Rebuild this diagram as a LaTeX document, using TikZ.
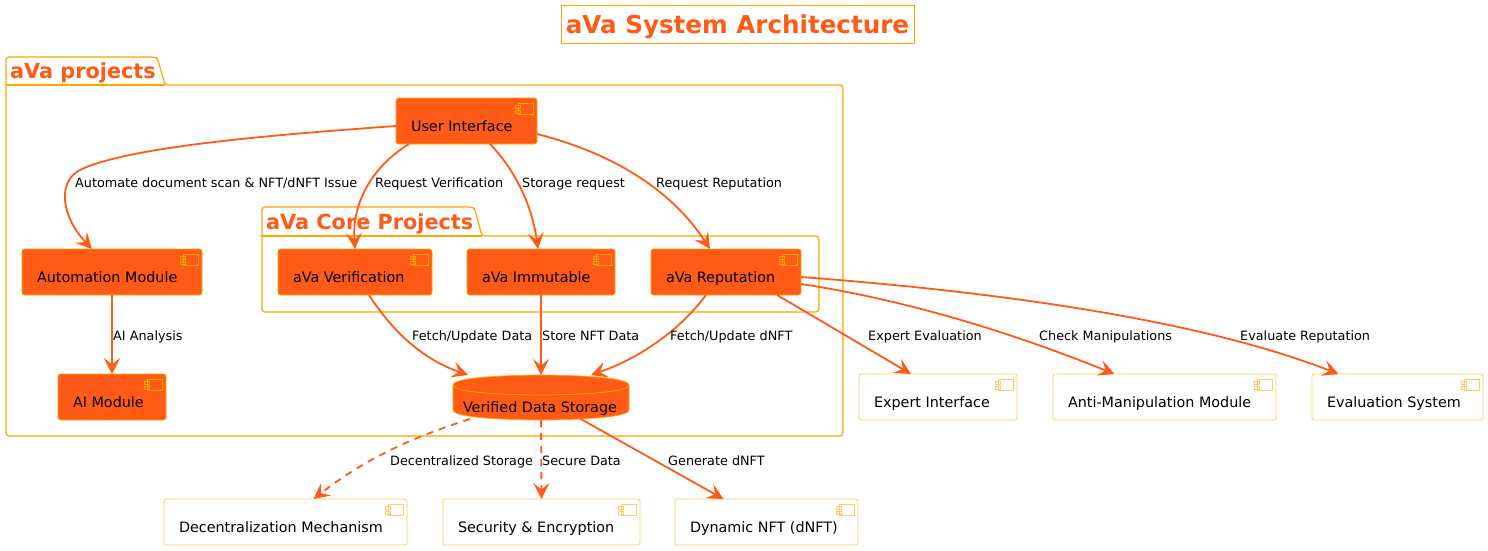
\documentclass[tikz,border=0pt]{standalone}
\usepackage{fontspec}
\setmainfont{DejaVu Sans}
\usetikzlibrary{arrows.meta}
\definecolor{hot}{HTML}{FF5B16}
\definecolor{gold}{HTML}{FFA500}
\definecolor{pale}{HTML}{FFCC66}
\tikzset{
  x=1pt,y=-1pt,
  compbase/.style={anchor=north west,inner sep=0pt,outer sep=0pt,rounded corners=2.5pt,text=black},
  hotbox/.style={compbase,fill=hot,draw=gold,line width=0.7pt},
  palebox/.style={compbase,fill=white,draw=pale,line width=0.8pt},
  hoticon/.style={gold,line width=0.8pt},
  paleicon/.style={pale,line width=0.9pt},
  pkg/.style={draw=gold,line width=1.2pt,line join=round},
  pkgtitle/.style={anchor=base west,inner sep=0pt,text=hot,font=\fontsize{20.8}{24}\selectfont\bfseries},
  lab/.style={anchor=base west,inner sep=0pt,text=black,font=\fontsize{12.8}{15}\selectfont},
  link/.style={draw=hot,line width=1.8pt,-{Stealth[length=16pt,width=16pt,inset=6.5pt]}},
  dlink/.style={link,dash pattern=on 7pt off 6pt},
}
% name, x, y, width, height, text, boxstyle, iconstyle
\newcommand{\compnode}[8]{%
  \node[#7,minimum height=#5pt] (#1) at (#2,#3)
    {\makebox[#4pt][l]{\hspace{15pt}\raisebox{-10pt}[0pt][0pt]{\fontsize{14.35}{16}\selectfont #6}}};
  \begin{scope}[shift={(#1.north east)}]
    \draw[#8] (-19,5) rectangle (-4,16);
    \draw[#8] (-22,7) rectangle (-17,10);
    \draw[#8] (-22,12) rectangle (-17,15);
  \end{scope}
}
\begin{document}
\begin{tikzpicture}
\fill[white] (0,0) rectangle (1488,550);
\useasboundingbox (0,0) rectangle (1488,550);

% title
\node[anchor=north west,inner sep=0pt,outer sep=0pt,minimum width=353pt,minimum height=38pt,
  text=hot,font=\fontsize{24.6}{28}\selectfont\bfseries] (title) at (561,5) {\raisebox{-9pt}[0pt][0pt]{aVa System Architecture}};
\draw[gold,line width=1pt] (title.north west) rectangle (title.south east);

% packages
\draw[pkg,rounded corners=3pt] (6,85) -- (6,57) -- (156,57) -- (158,60) -- (165,85) -- (843,85) -- (843,436) -- (6,436) -- cycle;
\draw[pkg] (6,85) -- (165,85);
\node[pkgtitle] (outerlabel) at (10,78) {aVa projects};
\draw[pkg,rounded corners=3pt] (262,236) -- (262,207) -- (473,207) -- (475,210) -- (482,236) -- (819,236) -- (819,312) -- (262,312) -- cycle;
\draw[pkg] (262,236) -- (482,236);
\node[pkgtitle] (corelabel) at (266,229) {aVa Core Projects};

% components
\compnode{ui}{396}{98}{141}{46}{User Interface}{hotbox}{hoticon}
\compnode{auto}{22}{249}{180}{46}{Automation Module}{hotbox}{hoticon}
\compnode{ver}{278}{249}{154}{46}{aVa Verification}{hotbox}{hoticon}
\compnode{imm}{467}{249}{148}{46}{aVa Immutable}{hotbox}{hoticon}
\compnode{rep}{651}{249}{150}{46}{aVa Reputation}{hotbox}{hoticon}
\compnode{ai}{58}{374}{108}{46}{AI Module}{hotbox}{hoticon}
\compnode{expert}{859}{374}{158}{46}{Expert Interface}{palebox}{paleicon}
\compnode{anti}{1053}{374}{223}{46}{Anti-Manipulation Module}{palebox}{paleicon}
\compnode{evalsys}{1312}{374}{171}{46}{Evaluation System}{palebox}{paleicon}
\compnode{decent}{164}{499}{243}{46}{Decentralization Mechanism}{palebox}{paleicon}
\compnode{secure}{443}{499}{197}{46}{Security \& Encryption}{palebox}{paleicon}
\compnode{dnft}{675}{499}{183}{46}{Dynamic NFT (dNFT)}{palebox}{paleicon}

% database
\path[fill=hot,draw=gold,line width=0.7pt]
  (453,385) .. controls (453,375) and (541,375) .. (541,375)
  .. controls (541,375) and (629,375) .. (629,385)
  -- (629,410) .. controls (629,420) and (541,420) .. (541,420)
  .. controls (541,420) and (453,420) .. (453,410) -- cycle;
\draw[gold,line width=0.7pt] (453,385) .. controls (453,395) and (541,395) .. (541,395)
  .. controls (541,395) and (629,395) .. (629,385);
\node[anchor=north west,inner sep=0pt,outer sep=0pt,minimum height=45pt] (db) at (453,375)
  {\makebox[176pt][l]{\hspace{10pt}\raisebox{-15pt}[0pt][0pt]{\fontsize{14.35}{16}\selectfont Verified Data Storage}}};

% connectors
\draw[link] ([yshift=-5pt]ui.west) .. controls (300,133) and (130,145) .. (80,170)
   .. controls (58,181) and (60,215) .. ([xshift=-20pt]auto.north);
\draw[link] ([xshift=13pt]ui.south west) .. controls (370,168) and (352,205) .. (ver.north);
\draw[link] ([xshift=94pt]ui.south west) .. controls (515,170) and (532,205) .. ([xshift=-3pt]imm.north);
\draw[link] ([yshift=10pt]ui.south east) .. controls (620,155) and (675,195) .. ([xshift=-16pt]rep.north);
\draw[link] (auto.south) -- (ai.north);
\draw[link] ([xshift=14pt]ver.south) .. controls (395,335) and (425,360) .. ([xshift=-73pt]db.north);
\draw[link] (imm.south) -- (db.north);
\draw[link] ([xshift=55pt]rep.south west) .. controls (680,330) and (640,358) .. ([xshift=50pt]db.north);
\draw[link] ([xshift=126pt]rep.south west) -- ([xshift=-27pt]expert.north);
\draw[link] ([yshift=11pt]rep.south east) .. controls (920,302) and (1030,340) .. ([xshift=-50pt]anti.north);
\draw[link] ([yshift=18pt]rep.south east) .. controls (1000,292) and (1200,320) .. ([xshift=-59pt]evalsys.north);
\draw[dlink] ([xshift=-71pt,yshift=1pt]db.south) .. controls (420,435) and (370,455) .. ([xshift=28pt]decent.north);
\draw[dlink] (db.south) -- (secure.north);
\draw[link] ([xshift=38pt,yshift=2pt]db.south) -- ([xshift=-43pt]dnft.north);

% labels
\node[lab] (l1) at (75,187) {Automate document scan \& NFT/dNFT Issue};
\node[lab] (l2) at (375,187) {Request Verification};
\node[lab] (l3) at (522,187) {Storage request};
\node[lab] (l4) at (656,187) {Request Reputation};
\node[lab] (l5) at (113,340) {AI Analysis};
\node[lab] (l6) at (412,340) {Fetch/Update Data};
\node[lab] (l7) at (542,340) {Store NFT Data};
\node[lab] (l8) at (670,340) {Fetch/Update dNFT};
\node[lab] (l9) at (868,340) {Expert Evaluation};
\node[lab] (l10) at (1039,340) {Check Manipulations};
\node[lab] (l11) at (1240,340) {Evaluate Reputation};
\node[lab] (l12) at (390,465) {Decentralized Storage};
\node[lab] (l13) at (542,465) {Secure Data};
\node[lab] (l14) at (668,465) {Generate dNFT};
\end{tikzpicture}
\end{document}
